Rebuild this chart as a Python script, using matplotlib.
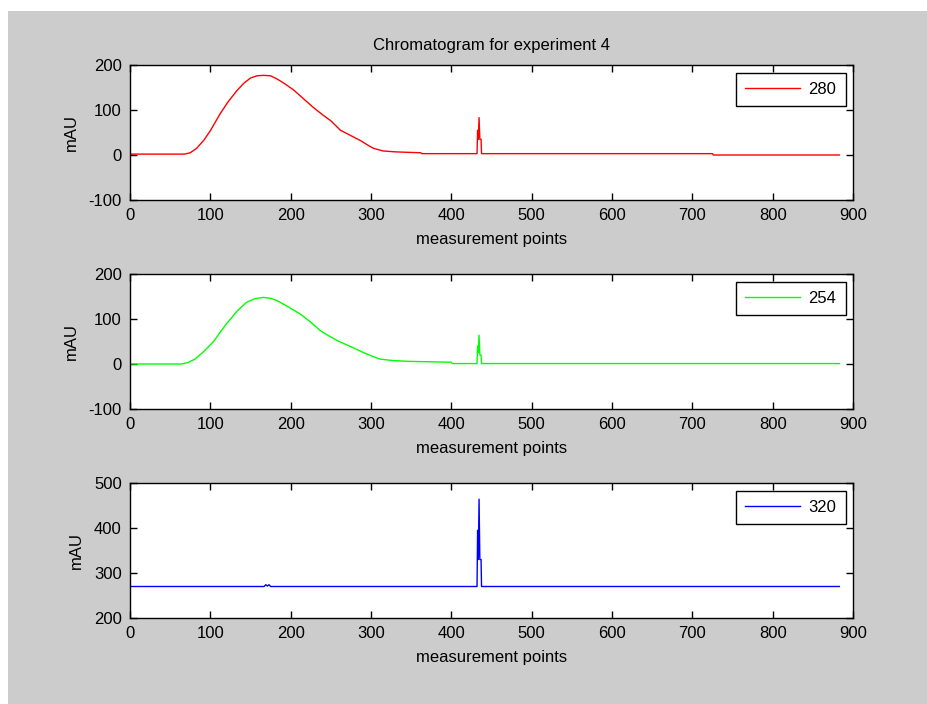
import matplotlib
matplotlib.use("Agg")
import matplotlib.pyplot as plt
from matplotlib.patches import Rectangle

plt.rcParams['font.family'] = ['Liberation Sans', 'DejaVu Sans']
plt.rcParams['axes.unicode_minus'] = False

# ---- data ----
x_280 = [0, 68, 75, 83, 92, 100, 112, 122, 133, 142, 150, 158, 166, 175, 183, 193, 204,
         216, 228, 240, 250, 262, 275, 287, 296, 303, 315, 330, 345, 362, 363,
         432, 432.7, 433.6, 434.5, 435.5, 437, 437.6, 725, 726, 883]
y_280 = [2, 2, 5, 15, 33, 54, 91, 118, 143, 160, 171, 176, 177, 176, 169, 158, 144,
         125, 106, 89, 76, 55, 43, 32, 22, 15, 9, 7, 6, 5, 3,
         3, 55, 35, 83, 35, 35, 3, 3, 0, 0]

x_254 = [0, 64, 72, 81, 92, 104, 112, 120, 133, 145, 155, 166, 175, 183, 197, 212, 225,
         237, 248, 258, 268, 278, 290, 299, 311, 325, 345, 370, 400, 401,
         432, 432.7, 433.6, 434.5, 435.5, 437, 437.6, 883]
y_254 = [0, 0, 3, 11, 28, 50, 70, 89, 117, 137, 145, 148, 146, 141, 127, 111, 93,
         74, 62, 52, 44, 36, 26, 19, 11, 8, 6, 5, 4, 1,
         1, 40, 25, 64, 20, 20, 1, 1]

x_320 = [0, 167, 169, 171, 173, 175, 177,
         432, 432.7, 433.6, 434.5, 435.5, 437, 437.6, 883]
y_320 = [270, 270, 274, 271, 274, 270, 270,
         270, 395, 330, 464, 330, 330, 270, 270]

series = [("280", x_280, y_280, "#ff0000", (-100, 200), [-100, 0, 100, 200]),
          ("254", x_254, y_254, "#00ff00", (-100, 200), [-100, 0, 100, 200]),
          ("320", x_320, y_320, "#0000ff", (200, 500), [200, 300, 400, 500])]

xticks = [0, 100, 200, 300, 400, 500, 600, 700, 800, 900]

W, H = 927, 704
fig = plt.figure(figsize=(W / 100, H / 100), dpi=100, facecolor="white")
fig.patches.append(Rectangle((8 / W, 0), 1 - 8 / W, 1 - 11 / H, transform=fig.transFigure,
                             facecolor="#cccccc", edgecolor="none", zorder=-10))

left = 130 / W
width = (853 - 130) / W
tops = [65, 274, 483]
hgt = 135

fs = 12
for i, (name, xs, ys, col, ylim, yt) in enumerate(series):
    ax = fig.add_axes([left, 1 - (tops[i] + hgt) / H, width, hgt / H])
    ax.set_facecolor("white")
    ax.plot(xs, ys, color=col, lw=1.0, label=name)
    ax.set_xlim(0, 900)
    ax.set_ylim(*ylim)
    ax.set_xticks(xticks)
    ax.set_yticks(yt)
    ax.tick_params(direction="in", length=5, width=1, top=True, right=True,
                   labelsize=fs, pad=6, colors="black")
    for sp in ax.spines.values():
        sp.set_linewidth(1)
        sp.set_color("black")
    ax.set_xlabel("measurement points", fontsize=fs, labelpad=6)
    ax.set_ylabel("mAU", fontsize=fs, labelpad=7)
    leg = ax.legend(loc="upper right", fontsize=fs, handlelength=3.3, fancybox=False,
                    framealpha=1, edgecolor="black", borderaxespad=0.45,
                    borderpad=0.55, handletextpad=0.5)
    leg.get_frame().set_linewidth(1)
    if i == 0:
        ax.set_title("Chromatogram for experiment 4", fontsize=fs, pad=11)

fig.savefig("out.png", dpi=100, facecolor=fig.get_facecolor())
